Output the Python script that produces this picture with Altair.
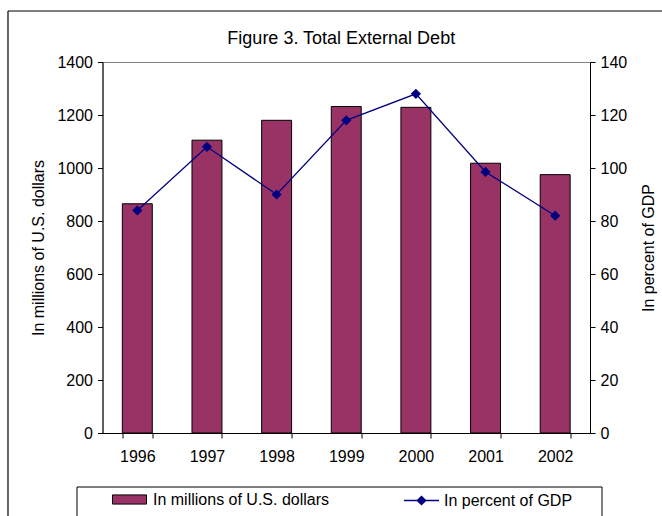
import altair as alt
import pandas as pd

# ---- data ----
years = ["1996", "1997", "1998", "1999", "2000", "2001", "2002"]
debt_musd = [865, 1105, 1180, 1232, 1229, 1018, 975]
debt_pct_gdp = [84, 108, 90, 118, 128, 98.5, 82]
series_bar = "In millions of U.S. dollars"
series_line = "In percent of GDP"
left_ticks = [0, 200, 400, 600, 800, 1000, 1200, 1400]
right_ticks = [0, 20, 40, 60, 80, 100, 120, 140]
title_text = "Figure 3. Total External Debt"

df = pd.DataFrame({
    "year": years,
    "musd": debt_musd,
    "pct": debt_pct_gdp,
    "s_bar": [series_bar] * len(years),
    "s_line": [series_line] * len(years),
})

W, H = 487.5, 371
FONT = "Liberation Sans"
MAROON = "#993366"
NAVY = "#000080"

x_enc = alt.X(
    "year:N",
    title=None,
    scale=alt.Scale(paddingInner=0.57, paddingOuter=0.285),
    axis=alt.Axis(labelAngle=0, tickBand="extent", tickSize=5, labelPadding=10,
                  domainColor="black", tickColor="black"),
)

bars = alt.Chart(df).mark_bar(stroke="black", strokeWidth=1).encode(
    x=x_enc,
    y=alt.Y(
        "musd:Q",
        title=series_bar,
        scale=alt.Scale(domain=[0, 1400], nice=False),
        axis=alt.Axis(values=left_ticks, format="d", orient="left", tickSize=5, labelPadding=5,
                      titlePadding=10, domainColor="black", tickColor="black"),
    ),
    fill=alt.Fill(
        "s_bar:N",
        scale=alt.Scale(domain=[series_bar], range=[MAROON]),
        legend=alt.Legend(
            title=None, orient="none", legendX=9.5, legendY=420,
            symbolType="M-1,-0.27H1V0.27H-1Z", symbolSize=1156,
            symbolStrokeColor="black", symbolStrokeWidth=1, labelOffset=6,
            padding=0, labelLimit=400,
        ),
    ),
)

line = alt.Chart(df).mark_line(
    color=NAVY, strokeWidth=1.3,
    point=alt.OverlayMarkDef(shape="diamond", filled=True, size=55, color=NAVY),
).encode(
    x=x_enc,
    y=alt.Y(
        "pct:Q",
        title=series_line,
        scale=alt.Scale(domain=[0, 140], nice=False),
        axis=alt.Axis(values=right_ticks, format="d", orient="right", tickSize=5, labelPadding=5,
                      titlePadding=30, titleAngle=270, domainColor="black", tickColor="black"),
    ),
    stroke=alt.Stroke(
        "s_line:N",
        scale=alt.Scale(domain=[series_line], range=[NAVY]),
        legend=alt.Legend(
            title=None, orient="none", legendX=300.5, legendY=420,
            symbolType="M-1,0H1M-0.24,0L0,-0.24L0.24,0L0,0.24Z", symbolSize=1225,
            symbolFillColor=NAVY, symbolStrokeWidth=1.3, labelOffset=4,
            padding=0, labelLimit=400,
        ),
    ),
)

one = alt.Data(values=[{"k": 1}])
frame_left = alt.Chart(one).mark_rule(color="black", strokeWidth=1.2).encode(
    x=alt.value(-94.5), y=alt.value(-51), y2=alt.value(H + 90))
frame_top = alt.Chart(one).mark_rule(color="black", strokeWidth=1.2).encode(
    x=alt.value(-94.5), x2=alt.value(W + 80), y=alt.value(-51))
legend_box = alt.Chart(one).mark_rect(fillOpacity=0, stroke="black", strokeWidth=1).encode(
    x=alt.value(-25.5), x2=alt.value(499.5), y=alt.value(425), y2=alt.value(H + 100))

chart = alt.layer(bars, line, frame_left, frame_top, legend_box).resolve_scale(
    y="independent", fill="independent", stroke="independent"
).properties(
    width=W,
    height=H,
    padding={"left": 102.5, "top": 62, "right": 72, "bottom": 83},
    autosize=alt.AutoSizeParams(type="none"),
    title=alt.Title(title_text, fontSize=18, fontWeight="normal", font=FONT,
                    anchor="middle", offset=-38, dx=-5, color="black"),
).configure(
    font=FONT,
).configure_view(
    stroke="#808080",
).configure_axis(
    labelFont=FONT, labelFontSize=16, labelColor="black",
    titleFont=FONT, titleFontSize=16, titleFontWeight="normal", titleColor="black",
    grid=False,
).configure_legend(
    labelFont=FONT, labelFontSize=16, labelColor="black",
)

chart.save("out.html", embed_options={"renderer": "svg", "actions": False})
